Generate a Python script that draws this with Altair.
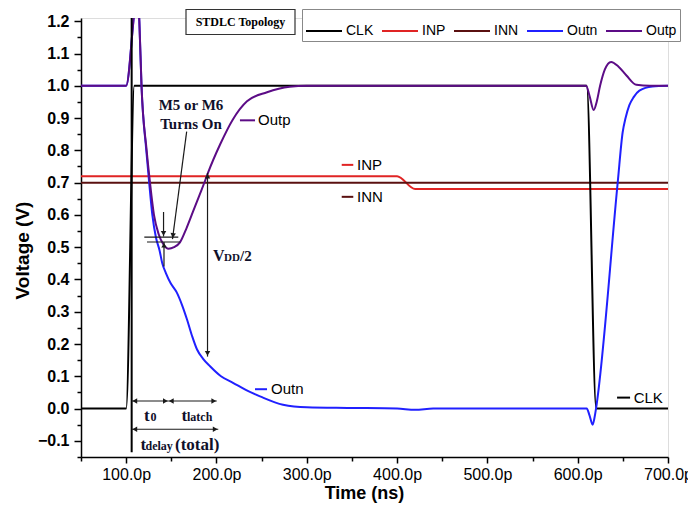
import altair as alt
import pandas as pd

# ---------------- data ----------------
series_names = ["CLK", "INP", "INN", "Outn", "Outp"]
series_colors = ["#000000", "#e02424", "#5a1010", "#2020ff", "#5c0c86"]

clk_t = [50, 100, 109, 610, 620.5, 700]
clk_v = [0.0, 0.0, 1.0, 1.0, 0.0, 0.0]

inp_t = [50, 400, 420, 700]
inp_v = [0.72, 0.72, 0.68, 0.68]

inn_t = [50, 700]
inn_v = [0.70, 0.70]

outp_t = [50, 100, 108, 111.3, 114.6, 117, 122.7, 126.4, 130.8, 136, 141, 147, 153,
          159.6, 167, 174, 181, 187.3, 190.6, 204, 218, 233.8, 256, 281, 300,
          609.3, 613, 617.7, 621, 624.8, 630, 637, 645, 654, 665, 680, 700]
outp_v = [1.0, 1.0, 1.2, 1.3, 1.2, 1.0, 0.8, 0.7, 0.6, 0.54, 0.51, 0.495, 0.5,
          0.515, 0.56, 0.61, 0.66, 0.705, 0.73, 0.818, 0.895, 0.952, 0.98, 0.997, 1.0,
          1.0, 0.97, 0.925, 0.95, 1.0, 1.05, 1.074, 1.06, 1.032, 1.003, 1.0, 1.0]

outn_t = [50, 100, 108, 111.3, 114.6, 117, 122.3, 125.5, 129, 133, 137, 140, 144,
          149, 156, 162, 167.4, 173, 178.5, 185, 192.9, 205, 218.3, 233, 248.2,
          273.7, 300, 348, 400, 420, 440, 610, 613, 616.6, 618.5, 620.3, 644.3,
          649.8, 653, 657.2, 662, 668.3, 682.7, 700]
outn_v = [1.0, 1.0, 1.2, 1.3, 1.2, 1.0, 0.8, 0.7, 0.6, 0.53, 0.49, 0.45, 0.42,
          0.39, 0.36, 0.32, 0.276, 0.225, 0.183, 0.155, 0.131, 0.10, 0.08, 0.057, 0.038,
          0.012, 0.004, 0.002, 0.0, -0.004, 0.0, 0.0, -0.02, -0.05, -0.03, 0.0, 0.70,
          0.856, 0.90, 0.94, 0.965, 0.985, 0.998, 1.0]

y_major = [-0.1, 0.0, 0.1, 0.2, 0.3, 0.4, 0.5, 0.6, 0.7, 0.8, 0.9, 1.0, 1.1, 1.2]
y_minor = [-0.15, -0.05, 0.05, 0.15, 0.25, 0.35, 0.45, 0.55, 0.65, 0.75, 0.85, 0.95, 1.05, 1.15]
x_major = [100, 200, 300, 400, 500, 600, 700]
x_minor = [50, 150, 250, 350, 450, 550, 650]

# annotation segments (t1, v1, t2, v2)
seg_t1 = [167.0, 120.1, 123.1, 141.4, 141.9, 190.1, 106.1, 146.7, 106.1]
seg_v1 = [0.858, 0.531, 0.516, 0.609, 0.440, 0.730, 0.0235, 0.0235, -0.064]
seg_t2 = [151.3, 157.7, 159.6, 141.4, 141.9, 190.1, 146.7, 200.3, 202.0]
seg_v2 = [0.525, 0.531, 0.516, 0.533, 0.516, 0.161, 0.0235, 0.0235, -0.064]

# arrow heads (t, v, angle: 0 down, 90 left, 180 up, 270 right)
head_t = [151.8, 141.4, 141.9, 190.1, 190.1, 109.6, 143.4, 150.0, 197.0, 109.6, 198.6]
head_v = [0.536, 0.543, 0.506, 0.720, 0.171, 0.0235, 0.0235, 0.0235, 0.0235, -0.064, -0.064]
head_a = [7.6, 0, 180, 180, 0, 90, 270, 90, 270, 90, 270]

# inline series labels
lab_names = ["INP", "INN", "Outp", "Outn", "CLK"]
lab_t1 = [338.7, 338.7, 226.0, 242.7, 643.6]
lab_t2 = [351.5, 351.5, 242.7, 256.0, 658.0]
lab_v = [0.755, 0.656, 0.893, 0.060, 0.034]
lab_tt = [355.6, 355.6, 246.0, 260.4, 662.0]

# serif annotation texts (t, v, text, size)
ann_t = [171.8, 171.8, 119.8, 127.0, 161.3, 167.4, 115.9, 121.4, 154.1, 196.2, 208.4, 226.1]
ann_v = [0.94, 0.882, -0.038, -0.038, -0.038, -0.038, -0.129, -0.129, -0.129, 0.457, 0.457, 0.457]
ann_s = ["M5 or M6", "Turns On", "t", "0", "t", "latch", "t", "delay", "(total)", "V", "DD", "/2"]
ann_size = [15, 15, 17, 12, 17, 12, 17, 12, 17, 16, 11, 15]

# ---------------- tables ----------------
rows = []
for name, ts, vs in [("INP", inp_t, inp_v), ("INN", inn_t, inn_v), ("CLK", clk_t, clk_v),
                     ("Outn", outn_t, outn_v), ("Outp", outp_t, outp_v)]:
    for i, (t, v) in enumerate(zip(ts, vs)):
        rows.append({"series": name, "t": t, "v": v, "i": i})
df = pd.DataFrame(rows)

xscale = alt.Scale(domain=[50, 700], nice=False, zero=False)
yscale = alt.Scale(domain=[-0.15, 1.21], nice=False, zero=False)
cscale = alt.Scale(domain=series_names, range=series_colors)

FS = "Liberation Sans"
SERIF = "Liberation Serif"

lines = alt.Chart(df).mark_line(strokeWidth=2, clip=True, interpolate="monotone").encode(
    x=alt.X("t:Q", scale=xscale, axis=alt.Axis(
        orient="bottom",
        values=x_major, labelExpr="format(datum.value, '.1f') + 'p'",
        title="Time (ns)", titleFont=FS, titleFontSize=18, titleFontWeight="bold",
        titleX=283, titleY=36, titleBaseline="middle", titleColor="black",
        labelFont=FS, labelFontSize=16, labelColor="black", labelPadding=3,
        tickSize=6, tickWidth=1.5, domainWidth=1.5, grid=False, labelFlush=False,
        domainColor="black", tickColor="black")),
    y=alt.Y("v:Q", scale=yscale, axis=alt.Axis(
        orient="left",
        values=y_major, format=".1f", title="Voltage (V)", titleFont=FS,
        titleFontSize=19, titleFontWeight="bold", titleX=-59, titleY=232,
        titleBaseline="middle", titleColor="black", titleAngle=270,
        labelFont=FS, labelFontSize=16, labelFontWeight="bold", labelColor="black",
        labelPadding=5, tickSize=7, tickWidth=1.5, domainWidth=1.5, grid=False,
        domainColor="black", tickColor="black", labelFlush=False)),
    color=alt.Color("series:N", scale=cscale, legend=alt.Legend(
        title=None, orient="none", legendX=221, legendY=-9, direction="horizontal",
        symbolType="stroke", symbolSize=1296, symbolStrokeWidth=2,
        labelFont=FS, labelFontSize=14, labelColor="black", labelOffset=3,
        columnPadding=4, padding=3, strokeColor="#888888", fillColor="white",
        symbolOffset=0)),
    order="i:Q",
)

minor = alt.Chart(pd.DataFrame({"t": [50, 700], "v": [-0.15, 1.21]})).mark_point(opacity=0).encode(
    x=alt.X("t:Q", scale=xscale, axis=alt.Axis(
        values=x_minor, labels=False, title=None, tickSize=4, tickWidth=1.5,
        domain=False, grid=False, orient="bottom", tickColor="black")),
    y=alt.Y("v:Q", scale=yscale, axis=alt.Axis(
        values=y_minor, labels=False, title=None, tickSize=4, tickWidth=1.5,
        domain=False, grid=False, orient="left", tickColor="black")),
)

noaxis = dict(axis=None)

vline = alt.Chart(pd.DataFrame({"t": [106.1], "v1": [-0.135], "v2": [1.21]})).mark_rule(
    strokeWidth=2, color="black").encode(
    x=alt.X("t:Q", scale=xscale, **noaxis),
    y=alt.Y("v1:Q", scale=yscale, **noaxis), y2="v2:Q")

segs = alt.Chart(pd.DataFrame({"t1": seg_t1, "v1": seg_v1, "t2": seg_t2, "v2": seg_v2})).mark_rule(
    strokeWidth=1.2, color="#1a1a1a").encode(
    x=alt.X("t1:Q", scale=xscale, **noaxis), x2="t2:Q",
    y=alt.Y("v1:Q", scale=yscale, **noaxis), y2="v2:Q")

heads = alt.Chart(pd.DataFrame({"t": head_t, "v": head_v, "a": head_a})).mark_point(
    shape="triangle-down", filled=True, size=30, color="#1a1a1a", opacity=1).encode(
    x=alt.X("t:Q", scale=xscale, **noaxis),
    y=alt.Y("v:Q", scale=yscale, **noaxis),
    angle=alt.Angle("a:Q", scale=None))

labdf = pd.DataFrame({"series": lab_names, "t1": lab_t1, "t2": lab_t2, "v": lab_v, "tt": lab_tt})
labrules = alt.Chart(labdf).mark_rule(strokeWidth=2).encode(
    x=alt.X("t1:Q", scale=xscale, **noaxis), x2="t2:Q",
    y=alt.Y("v:Q", scale=yscale, **noaxis),
    color=alt.Color("series:N", scale=cscale, legend=None))
labtext = alt.Chart(labdf).mark_text(align="left", baseline="middle", font=FS,
                                     fontSize=15, color="black").encode(
    x=alt.X("tt:Q", scale=xscale, **noaxis),
    y=alt.Y("v:Q", scale=yscale, **noaxis),
    text="series:N")

anndf = pd.DataFrame({"t": ann_t, "v": ann_v, "s": ann_s, "size": ann_size})
ann_layers = []
for i in range(len(ann_s)):
    sub = anndf.iloc[[i]]
    al = "center" if i < 2 else "left"
    bl = "middle" if i < 2 else "alphabetic"
    ann_layers.append(alt.Chart(sub).mark_text(
        align=al, baseline=bl, font=SERIF, fontWeight="bold",
        fontSize=int(ann_size[i]), color="#10102a").encode(
        x=alt.X("t:Q", scale=xscale, **noaxis),
        y=alt.Y("v:Q", scale=yscale, **noaxis),
        text="s:N"))

box = alt.Chart(pd.DataFrame({"a": [0]})).mark_rect(
    fill="white", stroke="#333333", strokeWidth=1.2).encode(
    x=alt.value(105), x2=alt.value(214), y=alt.value(-8.5), y2=alt.value(16.5))
boxtext = alt.Chart(pd.DataFrame({"s": ["STDLC Topology"]})).mark_text(
    font=SERIF, fontWeight="bold", fontSize=12, color="black", align="center",
    baseline="middle").encode(x=alt.value(159.5), y=alt.value(4), text="s:N")

chart = alt.layer(
    lines, minor, vline, segs, heads, labrules, labtext, *ann_layers, box, boxtext
).resolve_axis(x="independent", y="independent").properties(
    width=587, height=439,
    padding={"left": 73, "top": 10, "right": 20, "bottom": 46},
    autosize=alt.AutoSizeParams(type="none"),
).configure_view(stroke=None).configure(background="white")

chart.save("out.html", embed_options={"renderer": "svg", "actions": False})
